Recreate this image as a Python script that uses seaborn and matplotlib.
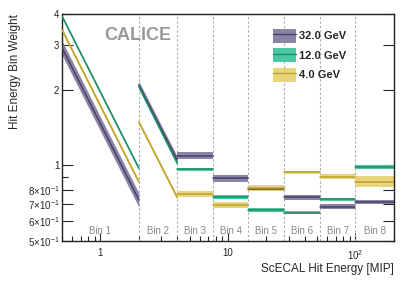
import numpy as np
import pandas as pd
import seaborn as sns
import matplotlib
matplotlib.use("Agg")
import matplotlib.pyplot as plt
from matplotlib.ticker import FixedLocator, FixedFormatter, NullFormatter

# bin edges in MIP
edges = [0.5, 2.0, 4.0, 7.61, 14.5, 27.6, 52.5, 100.0, 200.0]
bin_names = ["Bin 1", "Bin 2", "Bin 3", "Bin 4", "Bin 5", "Bin 6", "Bin 7", "Bin 8"]

energies = ["32.0 GeV", "12.0 GeV", "4.0 GeV"]

# weight at lower and upper edge of each bin (bins 1,2 slope, rest flat)
w_lo_32 = [2.94, 2.09, 1.094, 0.889, 0.805, 0.746, 0.685, 0.717]
w_hi_32 = [0.73, 1.05, 1.094, 0.889, 0.805, 0.746, 0.685, 0.717]
w_lo_12 = [3.92, 2.06, 0.965, 0.750, 0.665, 0.649, 0.733, 0.988]
w_hi_12 = [0.975, 1.02, 0.965, 0.750, 0.665, 0.649, 0.733, 0.988]
w_lo_4 = [3.46, 1.49, 0.770, 0.696, 0.812, 0.939, 0.902, 0.862]
w_hi_4 = [0.86, 0.745, 0.770, 0.696, 0.812, 0.939, 0.902, 0.862]

# relative uncertainty (half band width)
err_32 = [0.065, 0.035, 0.035, 0.03, 0.015, 0.02, 0.02, 0.02]
err_12 = [0.015, 0.02, 0.015, 0.02, 0.015, 0.015, 0.015, 0.02]
err_4 = [0.02, 0.02, 0.025, 0.025, 0.025, 0.015, 0.02, 0.05]

line_cols = {"32.0 GeV": "#4b4169", "12.0 GeV": "#1d8c6b", "4.0 GeV": "#bfa22c"}
fill_cols = {"32.0 GeV": "#8b84a6", "12.0 GeV": "#4cc7a1", "4.0 GeV": "#e7d47c"}

series = {
    "32.0 GeV": (w_lo_32, w_hi_32, err_32),
    "12.0 GeV": (w_lo_12, w_hi_12, err_12),
    "4.0 GeV": (w_lo_4, w_hi_4, err_4),
}

rows = []
for e in energies:
    lo, hi, er = series[e]
    for i in range(len(bin_names)):
        rows.append([e, i, edges[i], lo[i], er[i]])
        rows.append([e, i, edges[i + 1], hi[i], er[i]])
df = pd.DataFrame(rows, columns=["energy", "bin", "x", "w", "err"])
df["w_dn"] = df["w"] * (1 - df["err"])
df["w_up"] = df["w"] * (1 + df["err"])

sns.set_style("ticks")
plt.rcParams["font.family"] = ["Liberation Sans", "DejaVu Sans"]
plt.rcParams["mathtext.fontset"] = "custom"
plt.rcParams["mathtext.rm"] = "Liberation Sans"
plt.rcParams["mathtext.it"] = "Liberation Sans:italic"

fig = plt.figure(figsize=(4.15, 2.81), dpi=100)
ax = fig.add_axes([0.1494, 0.1423, 0.7996, 0.8077])

for e in energies:
    for b in range(len(bin_names)):
        seg = df[(df.energy == e) & (df.bin == b)]
        ax.fill_between(seg["x"], seg["w_dn"], seg["w_up"], color=fill_cols[e], lw=0, zorder=2)

sns.lineplot(data=df, x="x", y="w", hue="energy", units="bin", estimator=None,
             palette=line_cols, lw=1.1, legend=False, ax=ax, zorder=3)

for x in edges[1:-1]:
    ax.axvline(x, color="#aaaaaa", ls=(0, (2, 2)), lw=0.8, zorder=1)

ax.set_xscale("log")
ax.set_yscale("log")
ax.set_xlim(0.5, 200)
ax.set_ylim(0.5, 4)

ax.xaxis.set_major_locator(FixedLocator([1, 10, 100]))
ax.xaxis.set_major_formatter(FixedFormatter(["1", "10", "$10^2$"]))
xminor = [0.5, 0.6, 0.7, 0.8, 0.9] + list(range(2, 10)) + list(range(20, 100, 10)) + [200]
ax.xaxis.set_minor_locator(FixedLocator(xminor))
ax.xaxis.set_minor_formatter(NullFormatter())

yt = [0.5, 0.6, 0.7, 0.8, 1, 2, 3, 4]
ylab = [r"$5{\times}10^{-1}$", r"$6{\times}10^{-1}$", r"$7{\times}10^{-1}$", r"$8{\times}10^{-1}$",
        "1", "2", "3", "4"]
ax.yaxis.set_major_locator(FixedLocator(yt))
ax.yaxis.set_major_formatter(FixedFormatter(ylab))
ax.yaxis.set_minor_locator(FixedLocator([0.9]))
ax.yaxis.set_minor_formatter(NullFormatter())

ax.tick_params(which="both", direction="in", right=True, labelsize=7, pad=2)
ax.tick_params(which="major", length=8, width=0.8)
ax.tick_params(which="minor", length=4, width=0.8)
ax.tick_params(axis="x", which="major", length=6, pad=5)
ax.tick_params(axis="x", which="minor", length=3.5)
for s in ax.spines.values():
    s.set_linewidth(1.0)
    s.set_color("#222222")

ax.set_xlabel("ScECAL Hit Energy [MIP]", fontsize=8.5, loc="right", labelpad=1)
ax.set_ylabel("Hit Energy Bin Weight", fontsize=8.5, loc="top")
ax.yaxis.set_label_coords(-0.125, 1.0)

for i, name in enumerate(bin_names):
    xc = np.sqrt(edges[i] * edges[i + 1])
    ax.text(xc, 0.55, name, ha="center", va="center", fontsize=7, color="#888888")

ax.text(1.97, 3.3, "CALICE", ha="center", va="center", fontsize=13,
        fontweight="bold", color="#999999")

handles = []
for e in energies:
    p = plt.Rectangle((0, 0), 1, 1, facecolor=fill_cols[e], edgecolor="none")
    l = plt.Line2D([], [], color=line_cols[e], lw=1.0)
    handles.append((p, l))
leg = ax.legend(handles, energies, loc="upper left", bbox_to_anchor=(0.635, 0.935),
                frameon=False, prop={"size": 8, "weight": "bold"},
                handlelength=2.1, handleheight=1.55, handletextpad=0.3, labelspacing=0.5,
                borderaxespad=0, borderpad=0)

fig.savefig("out.png", dpi=100)
